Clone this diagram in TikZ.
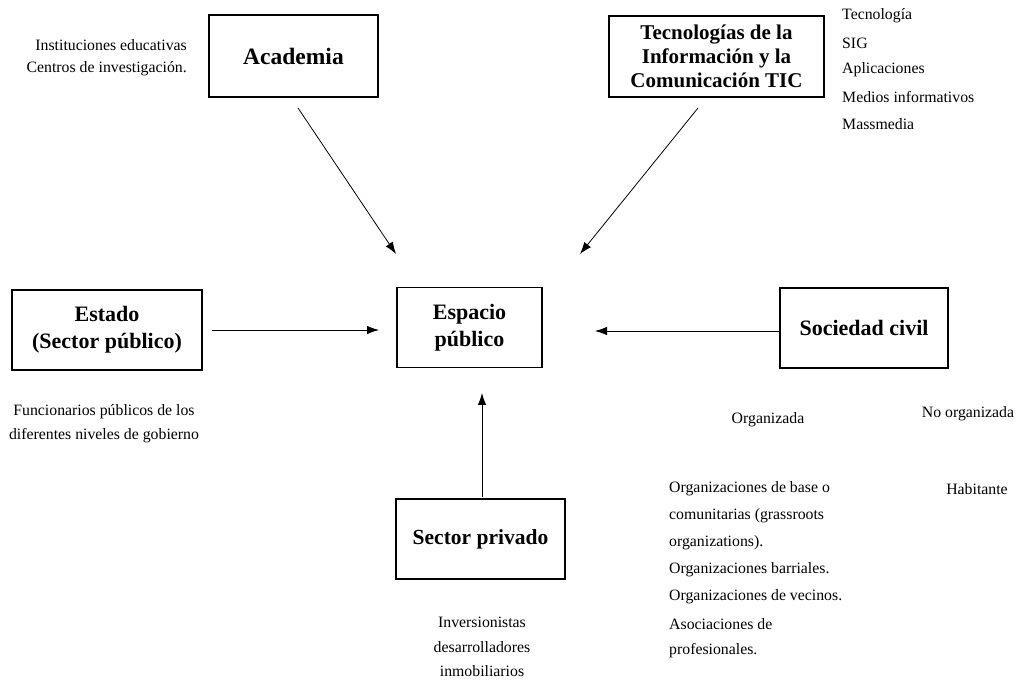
\documentclass[tikz,border=0pt]{standalone}
\usepackage{fontspec}
\setmainfont{Liberation Serif}
\usetikzlibrary{arrows.meta}
\begin{document}
\begin{tikzpicture}[x=1pt,y=-1pt,
  box/.style={draw,line width=1.5pt,rectangle,inner sep=0pt,align=center,font=\fontsize{22}{27}\selectfont\bfseries},
  lbl/.style={inner sep=0pt,font=\fontsize{15.8}{27}\selectfont},
  arr/.style={line width=0.8pt,-{Latex[length=12pt,width=8.5pt]}}]
\useasboundingbox (0,0) rectangle (1028,684);
% boxes
\node[box,minimum width=169pt,minimum height=82pt,font=\fontsize{23.5}{27}\selectfont\bfseries] (acad) at (293.5,56) {Academia};
\node[box,minimum width=215pt,minimum height=81pt,font=\fontsize{21}{24}\selectfont\bfseries] (tic) at (716.5,56.5) {Tecnologías de la\\Información y la\\Comunicación TIC};
\node[box,minimum width=190pt,minimum height=80pt] (est) at (107,330) {Estado\\(Sector público)};
\node[box,minimum width=145pt,minimum height=80pt] (esp) at (469.5,327.5) {Espacio\\público};
\node[box,minimum width=168pt,minimum height=80pt] (soc) at (864,328) {Sociedad civil};
\node[box,minimum width=169pt,minimum height=80pt,font=\fontsize{21.5}{27}\selectfont\bfseries] (priv) at (480.5,539) {Sector privado};
% arrow endpoints
\coordinate (a1) at (298,108); \coordinate (a2) at (396,254);
\coordinate (t1) at (698,108); \coordinate (t2) at (580,254);
\coordinate (e1) at (212,330); \coordinate (e2) at (379,330);
\coordinate (s1) at (781,331); \coordinate (s2) at (595,331);
\coordinate (p1) at (482,497); \coordinate (p2) at (482,393);
\draw[arr] (a1) -- (a2);
\draw[arr] (t1) -- (t2);
\draw[arr] (e1) -- (e2);
\draw[arr] (s1) -- (s2);
\draw[arr] (p1) -- (p2);
% labels
\node[lbl,anchor=east] (l1) at (187,45) {Instituciones educativas};
\node[lbl,anchor=east] (l2) at (187,69) {Centros de investigación.};
\node[lbl,anchor=west] (r1) at (842,16) {Tecnología};
\node[lbl,anchor=west] (r2) at (842,43) {SIG};
\node[lbl,anchor=west] (r3) at (842,70) {Aplicaciones};
\node[lbl,anchor=west] (r4) at (842,97) {Medios informativos};
\node[lbl,anchor=west] (r5) at (842,124) {Massmedia};
\node[lbl] (f1) at (104,412) {Funcionarios públicos de los};
\node[lbl] (f2) at (104,436) {diferentes niveles de gobierno};
\node[lbl] (org) at (768,420) {Organizada};
\node[lbl] (norg) at (968,414) {No organizada};
\node[lbl] (hab) at (977,489) {Habitante};
\node[lbl,anchor=west] (o1) at (669,489) {Organizaciones de base o};
\node[lbl,anchor=west] (o2) at (669,516) {comunitarias (grassroots};
\node[lbl,anchor=west] (o3) at (669,543) {organizations).};
\node[lbl,anchor=west] (o4) at (669,570) {Organizaciones barriales.};
\node[lbl,anchor=west] (o5) at (669,597) {Organizaciones de vecinos.};
\node[lbl,anchor=west] (o6) at (669,624) {Asociaciones de};
\node[lbl,anchor=west] (o7) at (669,651) {profesionales.};
\node[lbl] (i1) at (482,622) {Inversionistas};
\node[lbl] (i2) at (482,647) {desarrolladores};
\node[lbl] (i3) at (482,671) {inmobiliarios};
\end{tikzpicture}
\end{document}
